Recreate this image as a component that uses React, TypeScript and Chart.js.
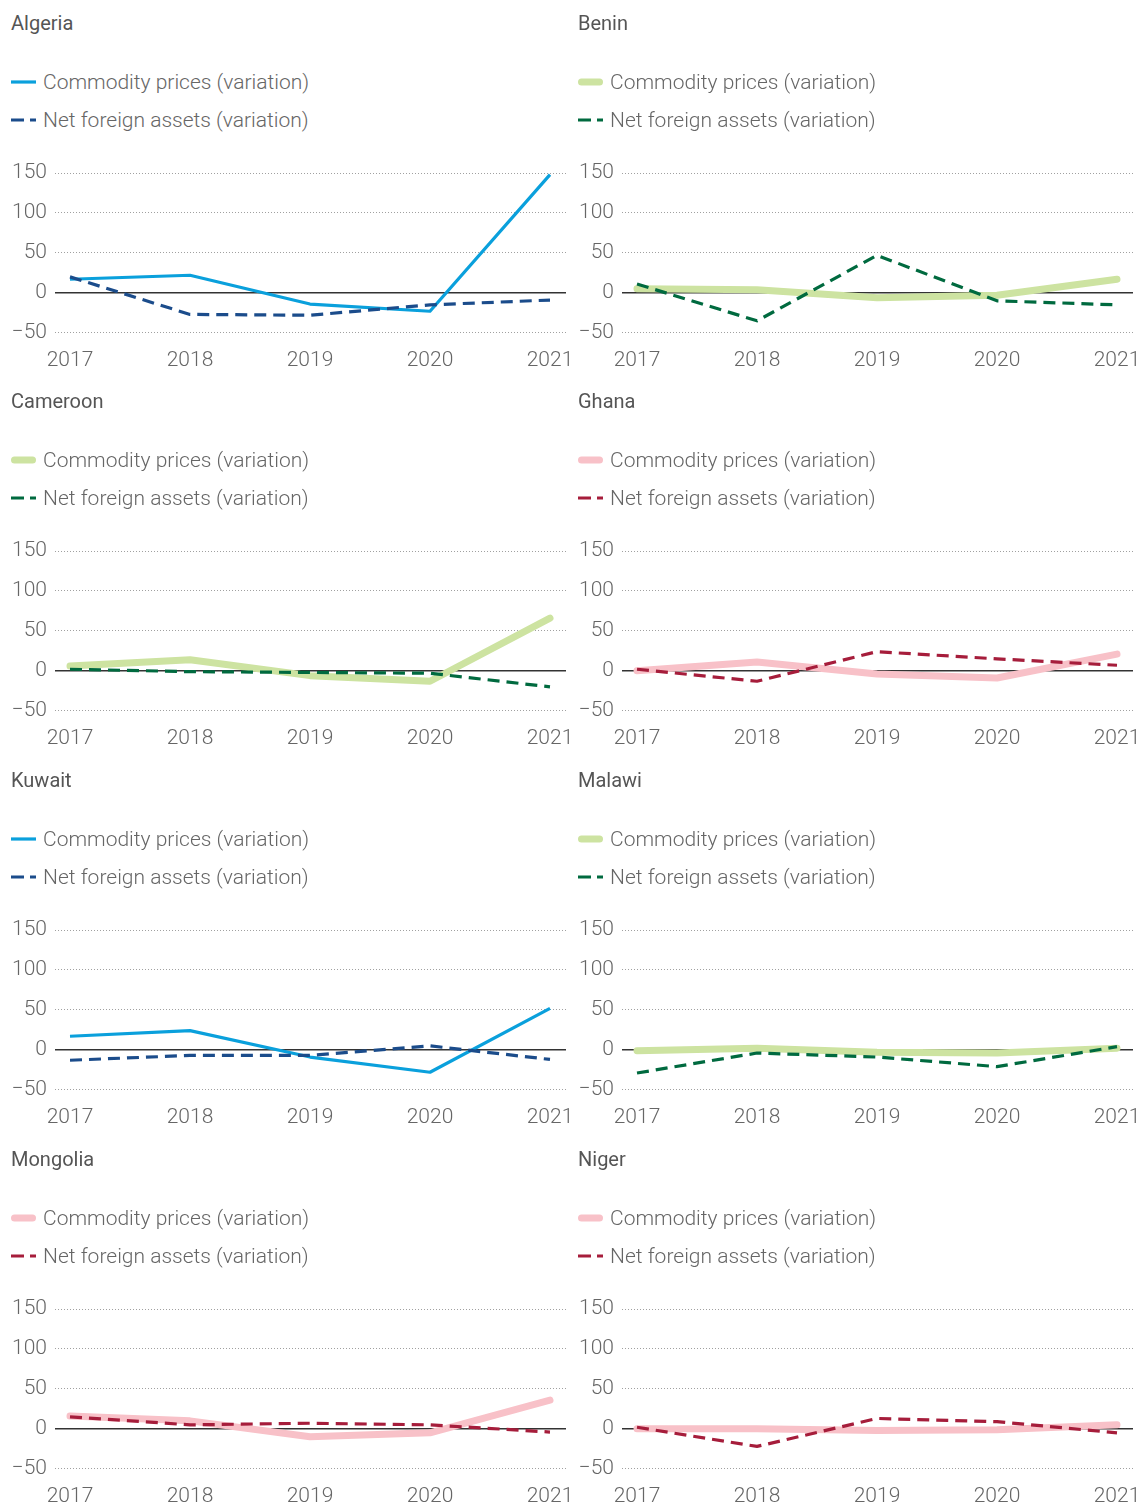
import React, { useEffect, useRef } from "react";
import { Chart, registerables } from "chart.js";

Chart.register(...registerables);

const YEARS = [2017, 2018, 2019, 2020, 2021];
const Y_MIN = -50;
const Y_MAX = 150;
const Y_STEP = 50;

const COMMODITY_LABEL = "Commodity prices (variation)";
const NFA_LABEL = "Net foreign assets (variation)";

const ALGERIA_COMMODITY = [17, 22, -14, -23, 148];
const ALGERIA_NFA = [20, -27, -28, -15, -9];
const BENIN_COMMODITY = [5, 4, -6, -3, 17];
const BENIN_NFA = [11, -35, 47, -10, -15];
const CAMEROON_COMMODITY = [6, 14, -6, -13, 66];
const CAMEROON_NFA = [2, -1, -2, -3, -20];
const GHANA_COMMODITY = [0, 11, -4, -9, 21];
const GHANA_NFA = [2, -13, 24, 15, 7];
const KUWAIT_COMMODITY = [17, 24, -9, -28, 52];
const KUWAIT_NFA = [-13, -7, -7, 5, -12];
const MALAWI_COMMODITY = [-1, 2, -3, -4, 2];
const MALAWI_NFA = [-29, -4, -9, -21, 4];
const MONGOLIA_COMMODITY = [16, 10, -10, -5, 36];
const MONGOLIA_NFA = [15, 5, 7, 5, -4];
const NIGER_COMMODITY = [0, 0, -2, -1, 5];
const NIGER_NFA = [2, -22, 13, 9, -5];

type Theme = {
  light: string;
  lightWidth: number;
  lightCap: "butt" | "round";
  dark: string;
};

const BLUE: Theme = { light: "#0aa0dc", lightWidth: 3.2, lightCap: "butt", dark: "#1b4c8b" };
const GREEN: Theme = { light: "#cde3a1", lightWidth: 7, lightCap: "round", dark: "#006a3f" };
const RED: Theme = { light: "#f8c1c8", lightWidth: 7, lightCap: "round", dark: "#a61d3b" };

const PANELS = [
  { name: "Algeria", commodity: ALGERIA_COMMODITY, nfa: ALGERIA_NFA, theme: BLUE },
  { name: "Benin", commodity: BENIN_COMMODITY, nfa: BENIN_NFA, theme: GREEN },
  { name: "Cameroon", commodity: CAMEROON_COMMODITY, nfa: CAMEROON_NFA, theme: GREEN },
  { name: "Ghana", commodity: GHANA_COMMODITY, nfa: GHANA_NFA, theme: RED },
  { name: "Kuwait", commodity: KUWAIT_COMMODITY, nfa: KUWAIT_NFA, theme: BLUE },
  { name: "Malawi", commodity: MALAWI_COMMODITY, nfa: MALAWI_NFA, theme: GREEN },
  { name: "Mongolia", commodity: MONGOLIA_COMMODITY, nfa: MONGOLIA_NFA, theme: RED },
  { name: "Niger", commodity: NIGER_COMMODITY, nfa: NIGER_NFA, theme: RED },
];

const ROW_TOPS = [0, 378, 757, 1136];
const COL_LEFTS = [0, 567];
const DASH = [12, 7];
const TEXT = "#666666";
const FONT = "Roboto, 'Noto Sans', sans-serif";

function Panel({ left, top, name, commodity, nfa, theme }: any) {
  const ref = useRef<HTMLCanvasElement | null>(null);

  useEffect(() => {
    if (!ref.current) return;
    const chart = new Chart(ref.current, {
      type: "line",
      data: {
        datasets: [
          {
            label: NFA_LABEL,
            data: YEARS.map((yr, i) => ({ x: yr, y: nfa[i] })),
            borderColor: theme.dark,
            borderWidth: 3.2,
            borderDash: DASH,
            borderJoinStyle: "round",
            pointRadius: 0,
            tension: 0,
            order: 1,
          },
          {
            label: COMMODITY_LABEL,
            data: YEARS.map((yr, i) => ({ x: yr, y: commodity[i] })),
            borderColor: theme.light,
            borderWidth: theme.lightWidth,
            borderCapStyle: theme.lightCap,
            borderJoinStyle: "round",
            pointRadius: 0,
            tension: 0,
            order: 2,
          },
        ],
      },
      options: {
        animation: false,
        responsive: false,
        events: [],
        layout: { padding: { top: 23, right: 7, left: 0, bottom: 0 } },
        plugins: { legend: { display: false }, tooltip: { enabled: false } },
        scales: {
          x: {
            type: "linear",
            min: 2016.875,
            max: 2021 + 16 / 120,
            grid: { display: false, drawTicks: false },
            border: { display: false },
            afterBuildTicks: (axis: any) => {
              axis.ticks = YEARS.map((v) => ({ value: v }));
            },
            afterFit: (axis: any) => {
              axis.paddingLeft = 0;
              axis.paddingRight = 0;
            },
            ticks: {
              padding: 15,
              color: TEXT,
              font: { family: FONT, size: 21, weight: "300" },
              maxRotation: 0,
              autoSkip: false,
              callback: (v: any) => String(v),
            },
          },
          y: {
            type: "linear",
            min: Y_MIN,
            max: Y_MAX,
            afterFit: (axis: any) => {
              axis.width = 55;
            },
            grid: {
              drawTicks: false,
              color: (c: any) => (c.tick && c.tick.value === 0 ? "#333333" : "#a0a0a0"),
              lineWidth: (c: any) => (c.tick && c.tick.value === 0 ? 1.5 : 1),
            },
            border: {
              display: false,
              dash: (c: any) => (c.tick && c.tick.value === 0 ? [] : [1, 2]),
            },
            ticks: {
              stepSize: Y_STEP,
              padding: 8,
              color: TEXT,
              font: { family: FONT, size: 21, weight: "300" },
              callback: (v: any) => (Number(v) < 0 ? "\u2212" + Math.abs(Number(v)) : String(v)),
            },
          },
        },
      },
    } as any);
    return () => chart.destroy();
  }, []);

  const legendLine = (dashed: boolean) => (
    <svg width={30} height={12} style={{ position: "absolute", left: 8, top: 7 }}>
      {dashed ? (
        <line x1={3} y1={6} x2={28} y2={6} stroke={theme.dark} strokeWidth={3} strokeDasharray="13 6" />
      ) : theme.lightCap === "round" ? (
        <line x1={3 + theme.lightWidth / 2} y1={6} x2={28 - theme.lightWidth / 2} y2={6} stroke={theme.light} strokeWidth={theme.lightWidth} strokeLinecap="round" />
      ) : (
        <line x1={3} y1={6} x2={28} y2={6} stroke={theme.light} strokeWidth={theme.lightWidth} />
      )}
    </svg>
  );

  return (
    <div style={{ position: "absolute", left, top, width: 573, height: 378 }}>
      <div
        style={{
          position: "absolute",
          left: 11,
          top: 11,
          lineHeight: "24px",
          fontFamily: FONT,
          fontSize: 20,
          color: "#555555",
          whiteSpace: "nowrap",
        }}
      >
        {name}
      </div>
      <div style={{ position: "absolute", left: 0, top: 69, height: 26, width: 400 }}>
        {legendLine(false)}
        <span
          style={{
            position: "absolute",
            left: 43,
            top: 0,
            lineHeight: "26px",
            fontFamily: FONT,
            fontWeight: 300,
            fontSize: 21,
            color: TEXT,
            whiteSpace: "nowrap",
          }}
        >
          {COMMODITY_LABEL}
        </span>
      </div>
      <div style={{ position: "absolute", left: 0, top: 107, height: 26, width: 400 }}>
        {legendLine(true)}
        <span
          style={{
            position: "absolute",
            left: 43,
            top: 0,
            lineHeight: "26px",
            fontFamily: FONT,
            fontWeight: 300,
            fontSize: 21,
            color: TEXT,
            whiteSpace: "nowrap",
          }}
        >
          {NFA_LABEL}
        </span>
      </div>
      <canvas
        ref={ref}
        width={573}
        height={238}
        style={{ position: "absolute", left: 0, top: 150, width: 573, height: 238 }}
      />
    </div>
  );
}

export default function App() {
  return (
    <div
      style={{
        position: "absolute",
        left: 0,
        top: 0,
        width: 1140,
        height: 1505,
        overflow: "hidden",
        background: "#ffffff",
      }}
    >
      {PANELS.map((p, i) => (
        <Panel
          key={p.name}
          left={COL_LEFTS[i % 2]}
          top={ROW_TOPS[Math.floor(i / 2)]}
          name={p.name}
          commodity={p.commodity}
          nfa={p.nfa}
          theme={p.theme}
        />
      ))}
    </div>
  );
}
